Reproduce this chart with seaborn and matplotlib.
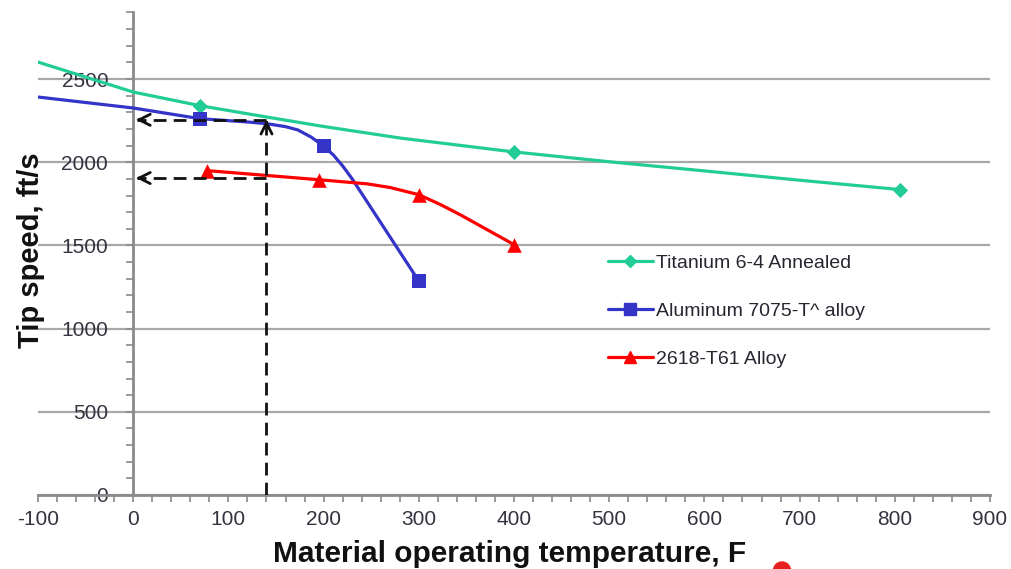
import matplotlib
matplotlib.use("Agg")
import matplotlib.pyplot as plt
import seaborn as sns
from matplotlib.lines import Line2D
from matplotlib.patches import Ellipse
from matplotlib.ticker import MultipleLocator

# ---------------- data ----------------
series_labels = ["Titanium 6-4 Annealed", "Aluminum 7075-T^ alloy", "2618-T61 Alloy"]

ti_curve_x = [-100, 0, 70, 140, 200, 281, 400, 500, 600, 700, 805]
ti_curve_y = [2602, 2422, 2340, 2272, 2215, 2145, 2062, 2003, 1948, 1892, 1836]
ti_mark_x = [70, 400, 805]
ti_mark_y = [2340, 2062, 1836]

al_curve_x = [-100, 0, 70, 100, 120, 140, 160, 173, 187, 200, 210, 220, 230, 300]
al_curve_y = [2392, 2326, 2262, 2250, 2242, 2232, 2214, 2194, 2151, 2097, 2045, 1978, 1900,
              1286]
al_mark_x = [70, 200, 300]
al_mark_y = [2262, 2097, 1286]

rd_curve_x = [77, 195, 246, 270, 300, 323, 344, 400]
rd_curve_y = [1950, 1895, 1870, 1848, 1805, 1745, 1683, 1505]
rd_mark_x = [77, 195, 300, 400]
rd_mark_y = [1950, 1895, 1805, 1505]

ref_temp = 140
ref_speed_upper = 2255
ref_speed_lower = 1905

x_label = "Material operating temperature, F"
y_label = "Tip speed, ft/s"

# ---------------- style ----------------
sns.set_theme(style="white")
plt.rcParams["font.family"] = ["Liberation Sans", "DejaVu Sans"]
plt.rcParams["axes.unicode_minus"] = False

GREEN = "#22cc96"
BLUE = "#3434c8"
RED = "#ff0000"
GRID = "#a8a8a8"
SPINE = "#8a8a8a"
TXT = "#333340"

W, H = 1011, 569
fig = plt.figure(figsize=(W / 100, H / 100), dpi=100)
ax = fig.add_axes([38 / W, (H - 495) / H, 952 / W, (495 - 12.5) / H])
ax.set_xlim(-100, 900)
ax.set_ylim(0, 2900)

# spines
for s in ["top", "right"]:
    ax.spines[s].set_visible(False)
ax.spines["left"].set_position(("data", 0))
ax.spines["left"].set_color(SPINE)
ax.spines["bottom"].set_color(SPINE)
ax.spines["left"].set_linewidth(2)
ax.spines["bottom"].set_linewidth(2)

# ticks
ax.xaxis.set_major_locator(MultipleLocator(100))
ax.xaxis.set_minor_locator(MultipleLocator(20))
ax.yaxis.set_major_locator(MultipleLocator(500))
ax.yaxis.set_minor_locator(MultipleLocator(100))
ax.tick_params(axis="both", which="both", direction="out", length=5,
               width=1.2, color=SPINE, bottom=True, left=True)
ax.tick_params(axis="y", which="major", labelsize=15, labelcolor=TXT, pad=13)
ax.tick_params(axis="x", which="major", labelsize=15, labelcolor=TXT, pad=6)

# gridlines
ax.yaxis.grid(True, color=GRID, linewidth=1.6, zorder=0)
ax.xaxis.grid(False)
ax.set_axisbelow(True)

# curves
sns.lineplot(x=ti_curve_x, y=ti_curve_y, ax=ax, color=GREEN, linewidth=2.3,
             sort=False, estimator=None, legend=False, zorder=3)
sns.lineplot(x=al_curve_x, y=al_curve_y, ax=ax, color=BLUE, linewidth=2.3,
             sort=False, estimator=None, legend=False, zorder=3)
sns.lineplot(x=rd_curve_x, y=rd_curve_y, ax=ax, color=RED, linewidth=2.3,
             sort=False, estimator=None, legend=False, zorder=3)

# markers
sns.scatterplot(x=ti_mark_x, y=ti_mark_y, ax=ax, marker="D", s=60, color=GREEN,
                edgecolor=GREEN, linewidth=0, legend=False, zorder=4)
sns.scatterplot(x=al_mark_x, y=al_mark_y, ax=ax, marker="s", s=110, color=BLUE,
                edgecolor=BLUE, linewidth=0, legend=False, zorder=4)
sns.scatterplot(x=rd_mark_x, y=rd_mark_y, ax=ax, marker="^", s=110, color=RED,
                edgecolor=RED, linewidth=0, legend=False, zorder=4)

# dashed reference lines with arrowheads
dash_kw = dict(color="#111111", linewidth=2.0, dashes=(4.6, 2.6), zorder=5)
ax.plot([ref_temp, ref_temp], [0, ref_speed_upper - 5], **dash_kw)
ax.plot([ref_temp, 4], [ref_speed_upper, ref_speed_upper], **dash_kw)
ax.plot([ref_temp, 4], [ref_speed_lower, ref_speed_lower], **dash_kw)
arr = dict(arrowstyle="->", color="#111111", lw=2.0, mutation_scale=20,
           shrinkA=0, shrinkB=0)
ax.annotate("", xy=(ref_temp, ref_speed_upper), xytext=(ref_temp, ref_speed_upper - 20),
            arrowprops=arr, zorder=6)
ax.annotate("", xy=(3, ref_speed_upper), xytext=(8, ref_speed_upper),
            arrowprops=arr, zorder=6)
ax.annotate("", xy=(3, ref_speed_lower), xytext=(8, ref_speed_lower),
            arrowprops=arr, zorder=6)

# axis labels
ax.set_xlabel(x_label, fontsize=21.5, fontweight="bold", color="#111111")
ax.xaxis.label.set_verticalalignment("baseline")
ax.xaxis.set_label_coords((510 - 38) / 952, (495 - 562) / 482.5)
ax.set_ylabel(y_label, fontsize=21, fontweight="bold", color="#111111")
ax.yaxis.label.set_verticalalignment("center")
ax.yaxis.set_label_coords((31 - 38) / 952, (495 - 250) / 482.5)

# legend
handles = [
    Line2D([], [], color=GREEN, lw=2.3, marker="D", markersize=6),
    Line2D([], [], color=BLUE, lw=2.3, marker="s", markersize=8),
    Line2D([], [], color=RED, lw=2.3, marker="^", markersize=8),
]
leg = ax.legend(handles, series_labels, loc="upper left",
                bbox_to_anchor=(608 / W, 1 - 254 / H), bbox_transform=fig.transFigure,
                frameon=False, fontsize=14, handlelength=2.3, handletextpad=0.15,
                labelspacing=1.58, borderaxespad=0, borderpad=0)
for t in leg.get_texts():
    t.set_color("#262630")

# partially visible slide element at the bottom edge
fig.patches.append(Ellipse((782 / W, -1.5 / H), 17 / W, 17 / H, color="#e82020",
                           transform=fig.transFigure, figure=fig))

fig.savefig("out.png", dpi=100)
